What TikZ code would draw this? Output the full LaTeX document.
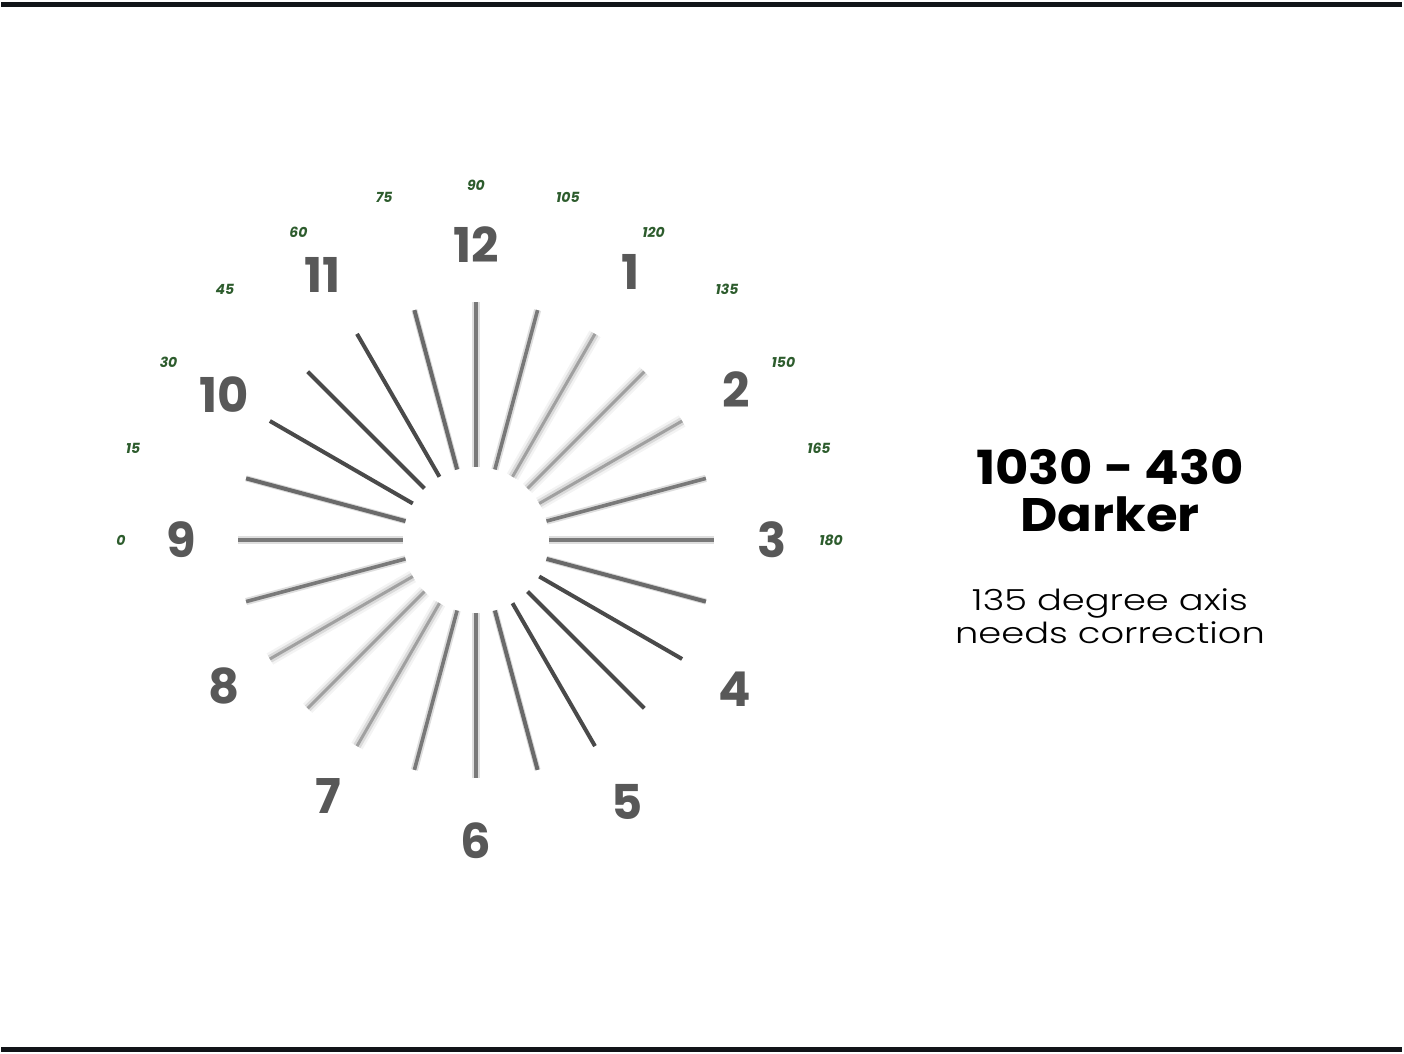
\documentclass[tikz,border=0pt]{standalone}
\usepackage{fontspec}
\setmainfont{Poppins}
\newfontfamily\headfont[FakeStretch=1.09]{Poppins}
\newfontfamily\lightfont[FakeStretch=1.27]{Poppins Light}
\usepackage{xcolor}
\usetikzlibrary{positioning}

\definecolor{rulecol}{HTML}{111418}
\definecolor{hourgray}{HTML}{585858}
\definecolor{deggreen}{RGB}{45,92,45}
\definecolor{raydark}{HTML}{4A4A4A}
\definecolor{raymid}{HTML}{6A6A6A}
\definecolor{raylight}{HTML}{A0A0A0}

\begin{document}
\begin{tikzpicture}[
    x=0.5pt, y=0.5pt,
    hour/.style={font=\fontsize{24}{24}\selectfont\bfseries, text=hourgray, inner sep=0pt},
    deg/.style={font=\fontsize{7}{7}\selectfont\bfseries\itshape, text=deggreen, inner sep=0pt},
    heading/.style={font=\headfont\fontsize{23.5}{23.5}\selectfont\bfseries, align=center, inner sep=0pt},
    note/.style={font=\lightfont\fontsize{14.5}{16.5}\selectfont, align=center, inner sep=0pt},
    ray/.style={line width=2pt},
    sharp/.style={ray, draw=raydark},
    mild/.style={ray, draw=raymid, preaction={draw=raymid, line width=3pt, draw opacity=0.25}},
    soft/.style={ray, draw=raymid!90, line width=1.8pt, preaction={draw=raymid, line width=3.6pt, draw opacity=0.22}},
    blurry/.style={ray, draw=raylight, line width=1.5pt,
        preaction={draw=raylight, line width=4pt, draw opacity=0.3},
        preaction={draw=raylight, line width=6.5pt, draw opacity=0.12}}
]
\useasboundingbox (-476,-514) rectangle (928,540);

% top and bottom rules
\fill[rulecol] (-475,538) rectangle (926,533);
\fill[rulecol] (-475,-507) rectangle (926,-512);

% rays of the dial, one axis at a time
\foreach \a/\look in {0/soft, 15/soft, 30/blurry, 45/blurry, 60/blurry, 75/soft,
                      90/soft, 105/mild, 120/sharp, 135/sharp, 150/sharp, 165/mild}
    \draw[\look] (\a:73) -- (\a:238) ({\a+180}:73) -- ({\a+180}:238);

% clock hours
\foreach \h/\r in {1/310, 2/300, 3/296, 4/299, 5/302, 6/301,
                   7/296, 8/291, 9/295, 10/291, 11/306, 12/295}
    \node[hour] (h\h) at ({90-30*\h}:\r) {\h};

% degree marks
\foreach \d in {0,15,...,180}
    \node[deg] (d\d) at ({180-\d}:355) {\d};

% result text
\node[heading, anchor=north] (head) at (634,91) {1030 - 430\\Darker};
\node[note, below=28pt of head] (axis) {135 degree axis\\needs correction};

\end{tikzpicture}
\end{document}
